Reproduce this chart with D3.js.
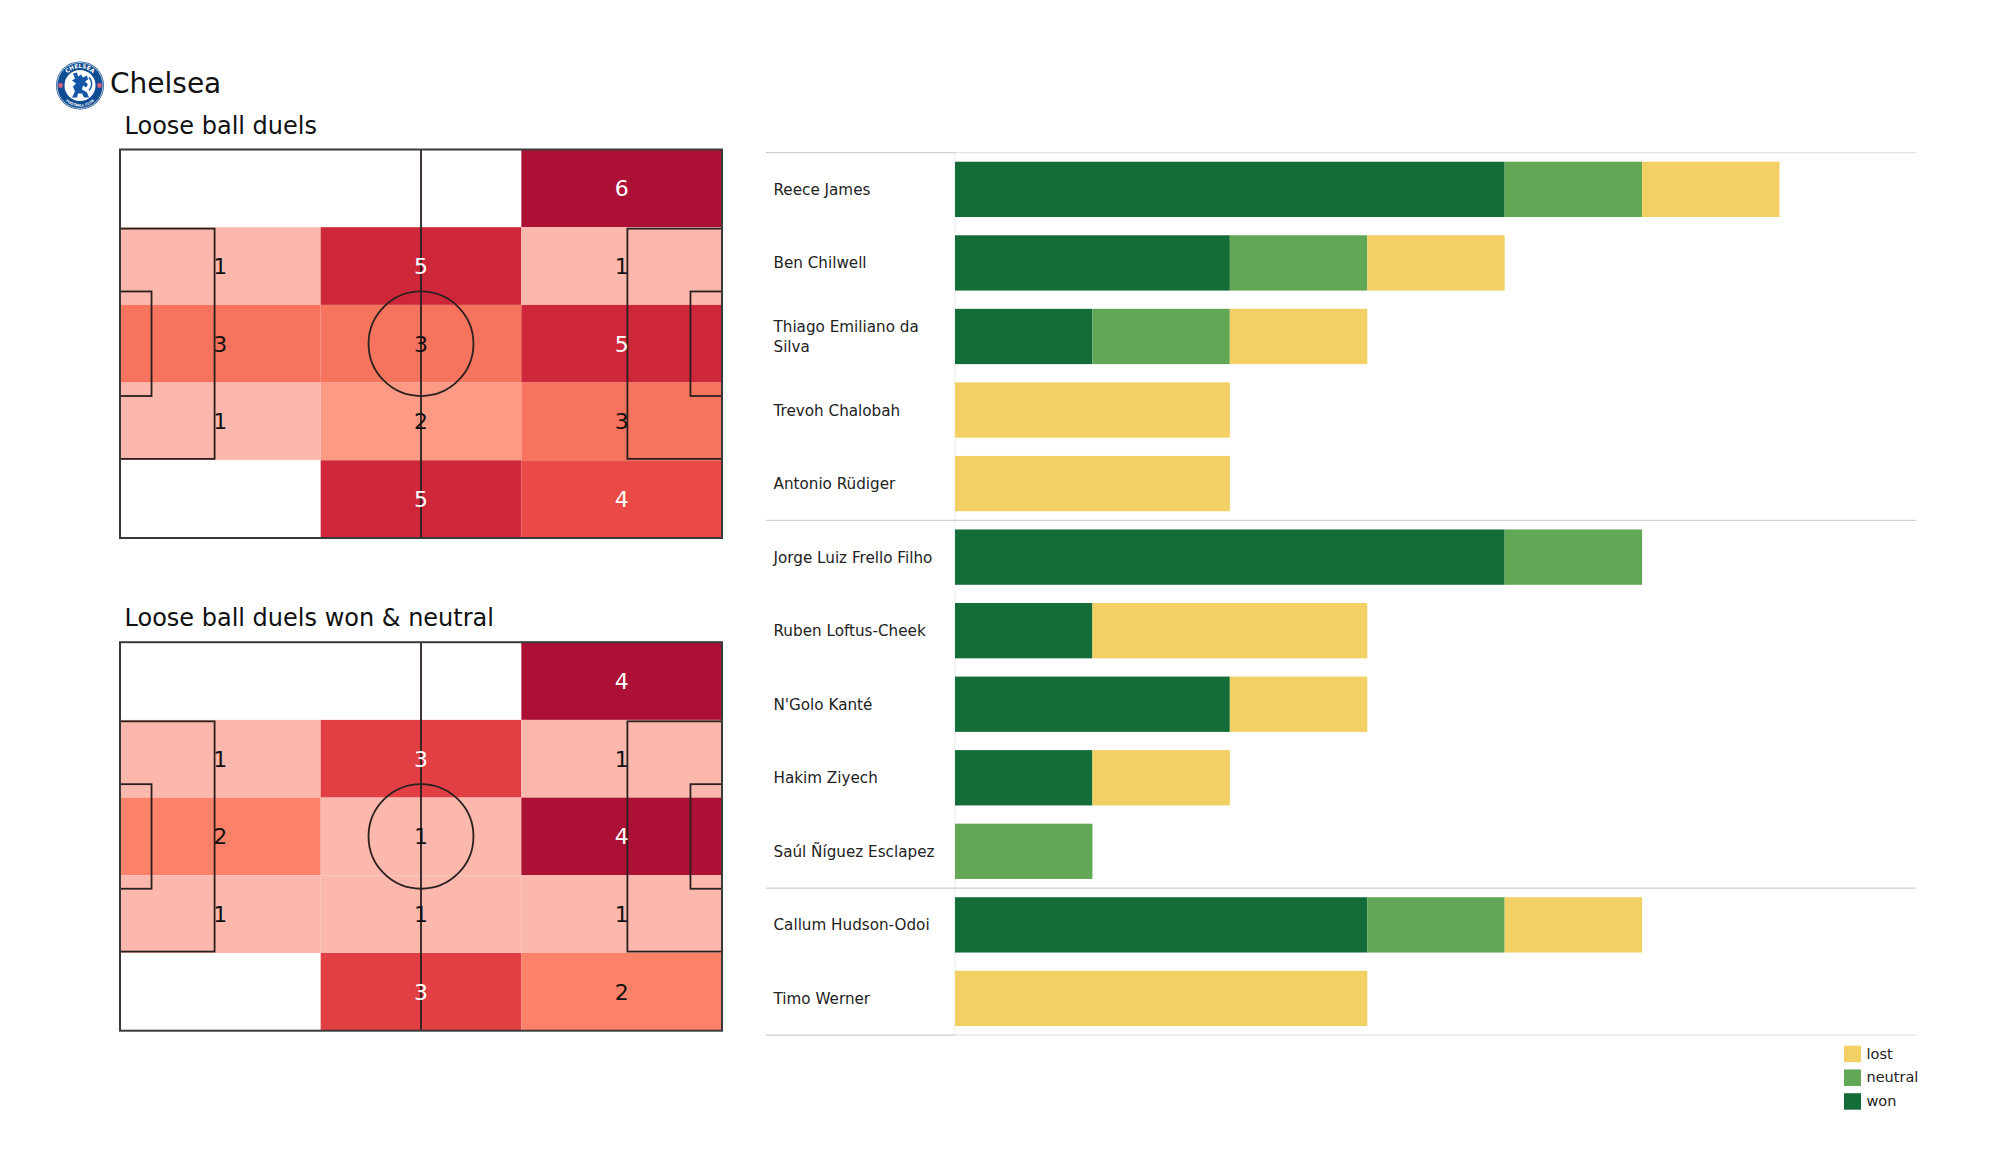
<!DOCTYPE html>
<html><head><meta charset="utf-8">
<script src="https://cdnjs.cloudflare.com/ajax/libs/d3/7.8.5/d3.min.js"></script>
<style>html,body{margin:0;padding:0;background:#fff}svg{display:block}text{font-family:"DejaVu Sans",sans-serif}</style>
</head><body><svg id="c" width="2000" height="1175"></svg>
<script>
const teamName = "Chelsea";
const panelTitles = ["Loose ball duels", "Loose ball duels won & neutral"];
const duelsAll = [[0,0,6],[1,5,1],[3,3,5],[1,2,3],[0,5,4]];
const duelsWon = [[0,0,4],[1,3,1],[2,1,4],[1,1,1],[0,3,2]];
const heatAllColors = ["#ffffff","#fdb8ad","#fc9a84","#f6735d","#ea4a45","#cf273a","#ad1035"];
const heatWonColors = ["#ffffff","#fdb8ad","#fb8168","#e23f44","#ad1035"];
const players = ["Reece James","Ben Chilwell","Thiago Emiliano da Silva","Trevoh Chalobah","Antonio Rüdiger","Jorge Luiz Frello Filho","Ruben Loftus-Cheek","N'Golo Kanté","Hakim Ziyech","Saúl Ñíguez Esclapez","Callum Hudson-Odoi","Timo Werner"];
const won     = [4,2,1,0,0,4,1,2,1,0,3,0];
const neutral = [1,1,1,0,0,1,0,0,0,1,1,0];
const lost    = [1,1,1,2,2,0,2,1,1,0,1,3];
const groupSizes = [5,5,2];
const legendKeys = ["lost","neutral","won"];
const legendColors = ["#f2d064","#62a755","#146c38"];

const svg = d3.select("#c");
svg.append("rect").attr("width",2000).attr("height",1175).attr("fill","#fff");

/* crest */
const crest = svg.append("g").attr("transform","translate(80,85.5)");
crest.append("circle").attr("r",24).attr("fill","#0f4c92");
crest.append("circle").attr("r",23).attr("fill","none").attr("stroke","#d8e2ee").attr("stroke-width",.8);
crest.append("circle").attr("r",15.5).attr("fill","#fff");
crest.append("path").attr("id","crestTop").attr("d","M-17.5,0A17.5,17.5 0 0 1 17.5,0").attr("fill","none");
crest.append("path").attr("id","crestBot").attr("d","M-21,0A21,21 0 0 0 21,0").attr("fill","none");
crest.append("text").attr("font-size",5.6).attr("font-weight","bold").attr("fill","#fff").attr("text-anchor","middle")
  .append("textPath").attr("href","#crestTop").attr("startOffset","50%").text("CHELSEA");
crest.append("text").attr("font-size",3.4).attr("font-weight","bold").attr("fill","#fff").attr("text-anchor","middle")
  .append("textPath").attr("href","#crestBot").attr("startOffset","50%").text("FOOTBALL CLUB");
[-19.5,19.5].forEach(x=>crest.append("circle").attr("cx",x).attr("cy",0).attr("r",2.4).attr("fill","#d9607a"));
crest.append("path").attr("fill","#1457a8")
  .attr("d","M-7,-12L-3,-13L-2,-9L1,-11L3,-8L7,-10L8,-6L5,-4L8,-1L6,2L3,0L2,4L7,7L9,12L4,12L2,8L-2,8L-3,12L-8,12L-5,6L-7,1L-4,-2L-8,-5L-5,-7Z");
crest.append("path").attr("fill","none").attr("stroke","#1457a8").attr("stroke-width",1.4)
  .attr("d","M9,-8C13,-4 12,2 9,5");

svg.append("text").attr("x",110).attr("y",93).attr("font-size",28).attr("fill","#111").text(teamName);

/* pitch panels */
function panel(top, title, data, colors){
  const bottom = top + 388.5;
  const px = d3.scaleLinear().domain([0,105]).range([120,722]);
  const py = d3.scaleLinear().domain([0,68]).range([top,bottom]);
  const col = d3.scaleBand().domain(d3.range(3)).range([120,722]);
  const row = d3.scaleBand().domain(d3.range(5)).range([top,bottom]);
  const color = d3.scaleOrdinal().domain(d3.range(colors.length)).range(colors);
  const g = svg.append("g");
  svg.append("text").attr("x",124.5).attr("y",top-16).attr("font-size",24).attr("fill","#111").text(title);
  const cells = data.flatMap((r,i)=>r.map((v,j)=>({v,i,j})));
  g.selectAll("rect").data(cells).join("rect")
    .attr("x",d=>col(d.j)).attr("y",d=>row(d.i))
    .attr("width",col.bandwidth()).attr("height",row.bandwidth())
    .attr("fill",d=>color(d.v));
  const lines = g.append("g").attr("fill","none").attr("stroke","#2a2020").attr("stroke-width",1.8);
  const box = (x0,y0,x1,y1)=>lines.append("rect").attr("x",px(x0)).attr("y",py(y0)).attr("width",px(x1)-px(x0)).attr("height",py(y1)-py(y0));
  box(0,13.85,16.5,54.15); box(88.5,13.85,105,54.15);
  box(0,24.85,5.5,43.15); box(99.5,24.85,105,43.15);
  lines.append("line").attr("x1",px(52.5)).attr("x2",px(52.5)).attr("y1",py(0)).attr("y2",py(68));
  lines.append("ellipse").attr("cx",px(52.5)).attr("cy",py(34)).attr("rx",px(9.15)-px(0)).attr("ry",py(9.15)-py(0));
  box(0,0,105,68).attr("stroke","#3a3a3a").attr("stroke-width",2);
  g.append("g").selectAll("text").data(cells.filter(d=>d.v>0)).join("text")
    .attr("x",d=>col(d.j)+col.bandwidth()/2).attr("y",d=>row(d.i)+row.bandwidth()/2+8)
    .attr("text-anchor","middle").attr("font-size",22)
    .attr("fill",d=>d3.lab(color(d.v)).l<60?"#fff":"#111").text(d=>d.v);
}
panel(149.5, panelTitles[0], duelsAll, heatAllColors);
panel(642.2, panelTitles[1], duelsWon, heatWonColors);

/* stacked bars */
const table = players.map((p,i)=>({player:p,won:won[i],neutral:neutral[i],lost:lost[i]}));
const series = d3.stack().keys(["won","neutral","lost"])(table);
const x = d3.scaleLinear().domain([0,6]).range([955,1779.5]);
const y = d3.scaleBand().domain(players).range([152.6,1035.2]).paddingInner(.248).paddingOuter(.124);
const barColor = d3.scaleOrdinal().domain(legendKeys).range(legendColors);

svg.append("line").attr("x1",955).attr("x2",955).attr("y1",152.6).attr("y2",1035.2).attr("stroke","#efefef").attr("stroke-width",1.2);
let acc=0;
[0,...groupSizes].forEach((n,i)=>{
  acc+=n;
  const yy = 152.6 + y.step()*acc;
  const inner = i>0 && i<groupSizes.length;
  svg.append("line").attr("x1",766).attr("x2",955).attr("y1",yy).attr("y2",yy).attr("stroke","#cfcfcf").attr("stroke-width",1.3);
  svg.append("line").attr("x1",955).attr("x2",1916).attr("y1",yy).attr("y2",yy).attr("stroke",inner?"#cfcfcf":"#e4e4e4").attr("stroke-width",1.3);
});

const layers = svg.append("g").selectAll("g").data(series).join("g").attr("fill",s=>barColor(s.key));
layers.selectAll("rect").data(s=>s.filter(d=>d[1]>d[0])).join("rect")
  .attr("x",d=>x(d[0])).attr("y",d=>y(d.data.player))
  .attr("width",d=>x(d[1])-x(d[0])).attr("height",y.bandwidth());
const vals = svg.append("g").selectAll("g").data(series).join("g");
vals.selectAll("text").data(s=>s.filter(d=>d[1]>d[0]).map(d=>({d,key:s.key}))).join("text")
  .attr("x",e=>(x(e.d[0])+x(e.d[1]))/2).attr("y",e=>y(e.d.data.player)+y.bandwidth()/2+5)
  .attr("text-anchor","middle").attr("font-size",14).attr("font-weight","bold")
  .attr("fill",e=>e.key==="lost"?"#111":"#fff").text(e=>e.d[e.key]);

/* player labels, wrapped by measured width */
const labelG = svg.append("g");
players.forEach(p=>{
  const cy = y(p)+y.bandwidth()/2;
  const t = labelG.append("text").attr("x",773.5).attr("font-size",15.2).attr("fill","#222");
  t.text(p);
  let lines=[p];
  if(t.node().getComputedTextLength()>170){
    const w=p.split(" "); lines=[w.slice(0,-1).join(" "),w[w.length-1]];
  }
  t.text(null);
  lines.forEach((l,k)=>t.append("tspan").attr("x",773.5).attr("y",cy+5.5+(k-(lines.length-1)/2)*20.3).text(l));
});

/* legend */
const ly = d3.scalePoint().domain(legendKeys).range([1045.7,1093.2]);
const lg = svg.append("g");
lg.selectAll("rect").data(legendKeys).join("rect").attr("x",1844).attr("y",d=>ly(d)).attr("width",17).attr("height",16.5).attr("fill",d=>barColor(d));
lg.selectAll("text").data(legendKeys).join("text").attr("x",1866.5).attr("y",d=>ly(d)+13).attr("font-size",14.5).attr("fill","#222").text(d=>d);
</script></body></html>
